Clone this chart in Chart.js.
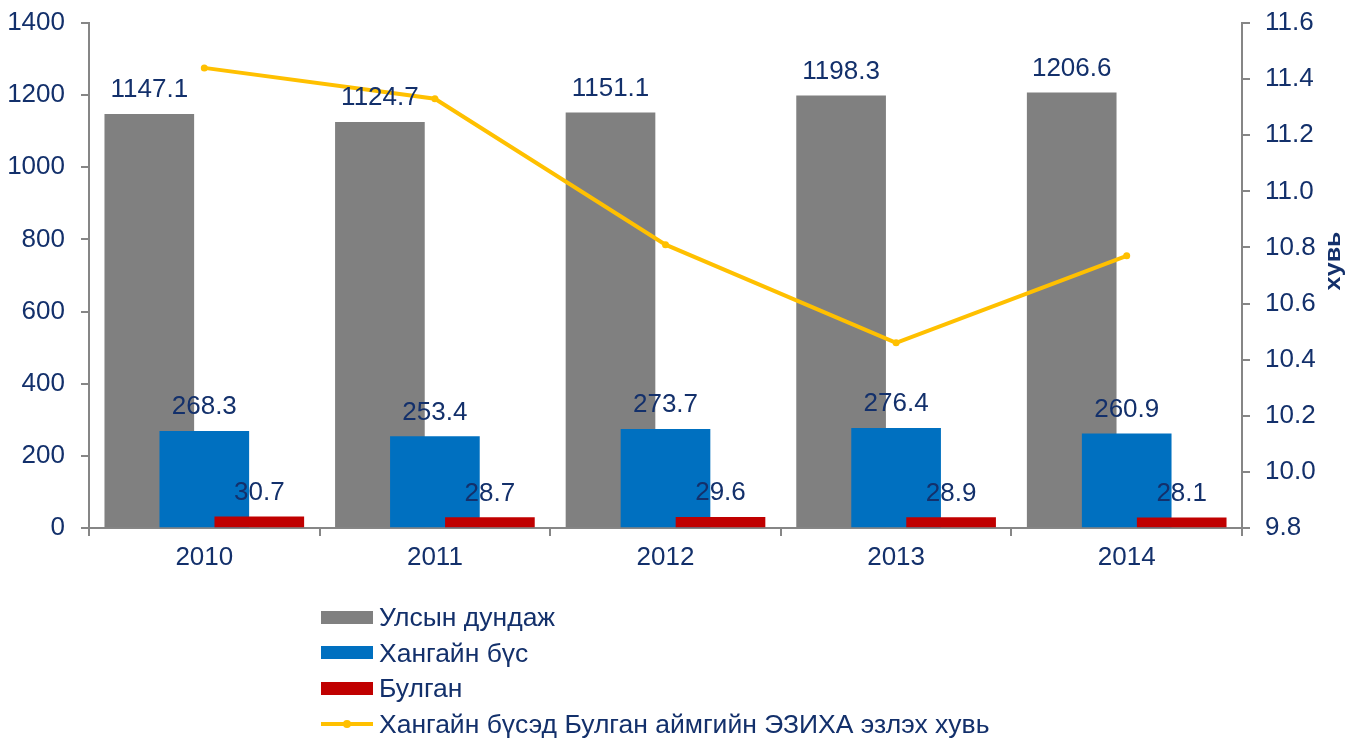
<!DOCTYPE html>
<html>
<head>
<meta charset="utf-8">
<script src="https://cdn.jsdelivr.net/npm/chart.js@4/dist/chart.umd.min.js"></script>
<style>
  html, body { margin: 0; padding: 0; background: #fff; }
  #wrap { position: relative; width: 1351px; height: 738px; }
  #c { position: absolute; left: 0; top: 0; }
  #legend { position: absolute; left: 321px; top: 0; font-family: "Liberation Sans", Arial, sans-serif; font-size: 26.5px; color: #13306B; }
  .item { position: absolute; left: 0; white-space: nowrap; height: 36px; }
  .sw { position: absolute; left: 0; }
  .txt { position: absolute; left: 58px; line-height: 30px; }
</style>
</head>
<body>
<div id="wrap">
  <canvas id="c" width="1351" height="738"></canvas>
  <div id="legend"></div>
</div>
<script>
// ---- data ----
const years = ['2010', '2011', '2012', '2013', '2014'];
const nationalAvg = [1147.1, 1124.7, 1151.1, 1198.3, 1206.6];
const khangaiRegion = [268.3, 253.4, 273.7, 276.4, 260.9];
const bulgan = [30.7, 28.7, 29.6, 28.9, 28.1];
const bulganShare = [11.44, 11.33, 10.81, 10.46, 10.77];
const seriesNames = ['Улсын дундаж', 'Хангайн бүс', 'Булган', 'Хангайн бүсэд Булган аймгийн ЭЗИХА эзлэх хувь'];
const leftTicks = { min: 0, max: 1400, step: 200 };
const rightTicks = { min: 9.8, max: 11.6, step: 0.2 };
const rightTitle = 'хувь';

const TXT = '#13306B';
const AXIS = '#868686';
const FONT = '"Liberation Sans", Arial, sans-serif';
const SHIFT = 0.2385;

const toXY = (arr, off) => arr.map((v, i) => ({ x: i + off, y: v }));

const labelPlugin = {
  id: 'barLabels',
  afterDatasetsDraw(chart) {
    const ctx = chart.ctx;
    ctx.save();
    ctx.font = '26px ' + FONT;
    ctx.fillStyle = TXT;
    ctx.textAlign = 'center';
    ctx.textBaseline = 'alphabetic';
    chart.data.datasets.forEach((ds, di) => {
      if (ds.type === 'line') return;
      const meta = chart.getDatasetMeta(di);
      meta.data.forEach((el, i) => {
        ctx.fillText(ds.data[i].y.toFixed(1), el.x, el.y - 17);
      });
    });
    ctx.restore();
  },
  afterDraw(chart) {
    const ctx = chart.ctx;
    ctx.save();
    ctx.translate(1334, 261);
    ctx.rotate(-Math.PI / 2);
    ctx.scale(1, 0.85);
    ctx.font = 'bold 25px ' + FONT;
    ctx.fillStyle = TXT;
    ctx.textAlign = 'center';
    ctx.textBaseline = 'middle';
    ctx.fillText(rightTitle, 0, 0);
    ctx.restore();
  }
};

const chart = new Chart(document.getElementById('c'), {
  type: 'bar',
  data: {
    datasets: [
      { type: 'line', label: seriesNames[3], data: toXY(bulganShare, 0), yAxisID: 'y1', xAxisID: 'x',
        borderColor: '#FFC000', backgroundColor: '#FFC000', borderWidth: 4, pointRadius: 3.5,
        pointBorderWidth: 0, pointBackgroundColor: '#FFC000', tension: 0, order: 0 },
      { label: seriesNames[0], data: toXY(nationalAvg, -SHIFT), backgroundColor: '#808080', yAxisID: 'y', order: 3 },
      { label: seriesNames[1], data: toXY(khangaiRegion, 0), backgroundColor: '#0070C0', yAxisID: 'y', order: 2 },
      { label: seriesNames[2], data: toXY(bulgan, SHIFT), backgroundColor: '#C00000', yAxisID: 'y', order: 1 }
    ]
  },
  options: {
    responsive: false,
    animation: false,
    devicePixelRatio: 1,
    layout: { padding: { top: 23, left: 0, right: 0, bottom: 0 } },
    datasets: { bar: { grouped: false, barThickness: 89 } },
    plugins: { legend: { display: false }, tooltip: { enabled: false } },
    scales: {
      x: {
        type: 'linear', position: 'bottom', min: -0.5, max: 4.5, offset: false,
        afterFit(sc) { sc.height = 738 - 528; sc.paddingLeft = 0; sc.paddingRight = 0; },
        afterBuildTicks(sc) {
          const t = [];
          for (let k = 0; k <= 10; k++) t.push({ value: -0.5 + k * 0.5 });
          sc.ticks = t;
        },
        ticks: {
          autoSkip: false, maxRotation: 0, padding: 6, color: TXT, font: { size: 26, family: FONT },
          callback: (v) => Number.isInteger(v) ? years[v] : ''
        },
        grid: {
          drawOnChartArea: false, drawTicks: true, tickLength: 8, lineWidth: 2, offset: false,
          color: (c) => (c.tick && Number.isInteger(c.tick.value)) ? 'rgba(0,0,0,0)' : AXIS
        },
        border: { display: true, color: AXIS, width: 2 }
      },
      y: {
        type: 'linear', position: 'left', min: leftTicks.min, max: leftTicks.max,
        afterFit(sc) { sc.width = 89; sc.paddingTop = 0; sc.paddingBottom = 0; },
        ticks: { stepSize: leftTicks.step, padding: 16, color: TXT, font: { size: 26, family: FONT },
          callback: (v) => String(v) },
        grid: { drawOnChartArea: false, drawTicks: true, tickLength: 8, lineWidth: 2, color: AXIS },
        border: { display: true, color: AXIS, width: 2 }
      },
      y1: {
        type: 'linear', position: 'right', min: rightTicks.min, max: rightTicks.max,
        afterFit(sc) { sc.width = 1351 - 1242; sc.paddingTop = 0; sc.paddingBottom = 0; },
        ticks: { stepSize: rightTicks.step, padding: 15, color: TXT, font: { size: 26, family: FONT },
          callback: (v) => v.toFixed(1) },
        grid: { drawOnChartArea: false, drawTicks: true, tickLength: 8, lineWidth: 2, color: AXIS },
        border: { display: true, color: AXIS, width: 2 }
      }
    }
  },
  plugins: [labelPlugin]
});

// HTML legend built from chart datasets
(function buildLegend() {
  const leg = document.getElementById('legend');
  const order = [1, 2, 3, 0];
  const centers = [617, 652.5, 688, 723.5];
  order.forEach((di, k) => {
    const ds = chart.data.datasets[di];
    const item = document.createElement('div');
    item.className = 'item';
    item.style.top = (centers[k] - 18) + 'px';
    const sw = document.createElement('div');
    sw.className = 'sw';
    if (ds.type === 'line') {
      sw.style.cssText = 'position:absolute;left:0;top:16px;width:52px;height:4px;background:' + ds.borderColor + ';';
      const dot = document.createElement('div');
      dot.style.cssText = 'position:absolute;left:22px;top:-2px;width:8px;height:8px;border-radius:4px;background:' + ds.borderColor + ';';
      sw.appendChild(dot);
    } else {
      sw.style.cssText = 'position:absolute;left:0;top:11.5px;width:52px;height:13px;background:' + ds.backgroundColor + ';';
    }
    const tx = document.createElement('div');
    tx.className = 'txt';
    tx.style.top = '3px';
    tx.textContent = ds.label;
    item.appendChild(sw);
    item.appendChild(tx);
    leg.appendChild(item);
  });
})();
</script>
</body>
</html>
